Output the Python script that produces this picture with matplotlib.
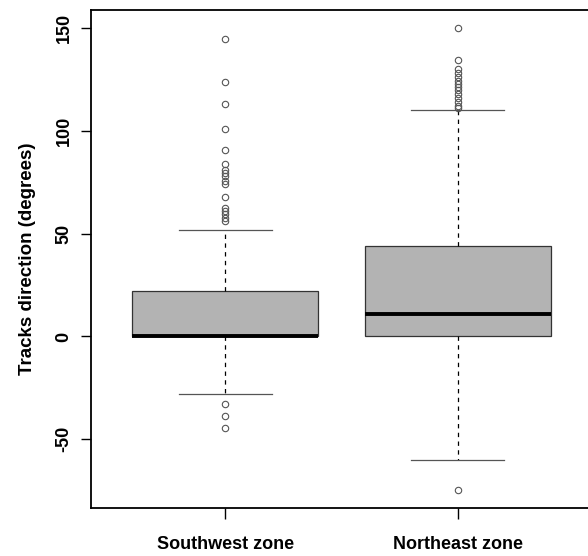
import matplotlib
matplotlib.use("Agg")
import matplotlib.pyplot as plt

# --- data ---
zones = ["Southwest zone", "Northeast zone"]
q1 = [0, 0]
medians = [0, 11]
q3 = [22, 44]
whisker_low = [-28, -60]
whisker_high = [52, 110]
outliers_sw = [145, 124, 113, 101, 91, 84, 81, 79.5, 78, 75.5, 74, 68,
               62.5, 61, 59.5, 57.5, 56, -33, -38.5, -44.5]
outliers_ne = [150, 134.5, 130, 128, 126.5, 124.5, 123, 121.5, 120, 118,
               116, 114, 112, 111, -74.5]
outliers = [outliers_sw, outliers_ne]

plt.rcParams['font.family'] = ['Liberation Sans', 'DejaVu Sans']

stats = []
for i, name in enumerate(zones):
    stats.append(dict(label=name, q1=q1[i], med=medians[i], q3=q3[i],
                      whislo=whisker_low[i], whishi=whisker_high[i],
                      fliers=outliers[i]))

fig = plt.figure(figsize=(5.88, 5.56), dpi=100)
ax = fig.add_axes([0.154, 0.0863, 0.854, 0.896])

ax.bxp(stats, positions=[1, 2], widths=0.8, capwidths=0.4, patch_artist=True,
       boxprops=dict(facecolor='#b3b3b3', edgecolor='#333333', linewidth=0.9),
       medianprops=dict(color='black', linewidth=2.8, solid_capstyle='butt'),
       whiskerprops=dict(color='black', linewidth=0.9, linestyle=(0, (3.5, 3.5))),
       capprops=dict(color='#555555', linewidth=0.9),
       flierprops=dict(marker='o', markersize=4.6, markerfacecolor='none',
                       markeredgecolor='#555555', markeredgewidth=0.8))

# R-style axis extents: 4% padding around data range
all_vals = [v for o in outliers for v in o] + whisker_low + whisker_high
lo, hi = min(all_vals), max(all_vals)
pad = 0.04 * (hi - lo)
ax.set_ylim(lo - pad, hi + pad)
ax.set_xlim(0.42, 2.58)

ax.set_yticks([-50, 0, 50, 100, 150])
ax.set_yticklabels(['-50', '0', '50', '100', '150'], rotation=90, va='center',
                   fontsize=13, fontweight='bold')
ax.set_xticks([1, 2])
ax.set_xticklabels(zones, fontsize=13, fontweight='bold')
ax.tick_params(axis='y', length=7, width=1, pad=6)
ax.tick_params(axis='x', length=8, width=1, pad=12)

ax.set_ylabel('Tracks direction (degrees)', fontsize=13.5, fontweight='bold',
              labelpad=14)

for s in ax.spines.values():
    s.set_linewidth(1.3)

fig.savefig('out.png', dpi=100)
